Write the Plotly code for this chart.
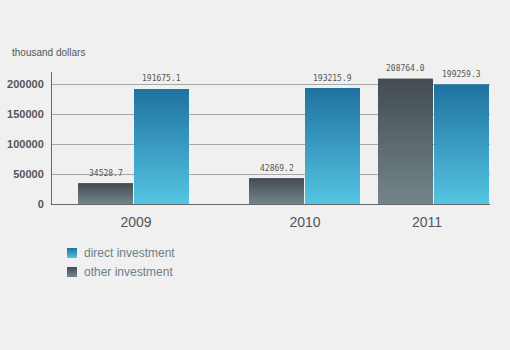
import base64
import plotly.graph_objects as go

# ---- data ----
years = ["2009", "2010", "2011"]
direct_investment = [191675.1, 193215.9, 199259.3]
other_investment = [34528.7, 42869.2, 208764.0]
y_ticks = [0, 50000, 100000, 150000, 200000]
series_names = ["direct investment", "other investment"]

# ---- layout constants (x axis units = pixels from left of plot area) ----
group_pos = [81.5, 252.5, 381.5]
label_pos = [84, 253, 375]
bar_w = 55
other_off = -55.5
direct_off = 0.5

dir_top, dir_bot = "#1f72a0", "#55c4e1"
oth_top, oth_bot = "#424c52", "#748589"
txt = "#555555"
font_fam = "Liberation Sans, Arial, sans-serif"

fig = go.Figure()

fig.add_trace(go.Bar(x=group_pos, y=direct_investment, width=bar_w, offset=direct_off,
                     marker=dict(color="#3a9cc4", line=dict(width=0)),
                     name=series_names[0], showlegend=False))
fig.add_trace(go.Bar(x=group_pos, y=other_investment, width=bar_w, offset=other_off,
                     marker=dict(color="#5b676c", line=dict(width=0)),
                     name=series_names[1], showlegend=False))


def grad_bars(vals, off, top, bot):
    for xc, v in zip(group_pos, vals):
        x0 = xc + off
        x1 = x0 + bar_w
        fig.add_trace(go.Scatter(
            x=[x0, x1, x1, x0, x0], y=[0, 0, v, v, 0], mode="lines",
            line=dict(width=0), fill="toself",
            fillgradient=dict(type="vertical", colorscale=[[0, bot], [1, top]]),
            showlegend=False, hoverinfo="skip"))


grad_bars(direct_investment, direct_off, dir_top, dir_bot)
grad_bars(other_investment, other_off, oth_top, oth_bot)

annotations = []
# value labels
for vals, off in ((direct_investment, direct_off), (other_investment, other_off)):
    for xc, v in zip(group_pos, vals):
        annotations.append(dict(
            x=xc + off + bar_w / 2, y=v, xref="x", yref="y", text=f"{v:.1f}",
            showarrow=False, yanchor="middle", yshift=10,
            font=dict(family="DejaVu Sans Mono, monospace", size=8, color=txt)))

# axis title
annotations.append(dict(text="thousand dollars", xref="paper", yref="paper",
                        x=-42 / 438, y=(204 - 53) / 132, xanchor="left", yanchor="middle",
                        showarrow=False, font=dict(family=font_fam, size=10, color=txt)))


def grad_svg(top, bot):
    svg = ('<svg xmlns="http://www.w3.org/2000/svg" width="10" height="10">'
           '<defs><linearGradient id="g" x1="0" y1="0" x2="0" y2="1">'
           f'<stop offset="0" stop-color="{top}"/><stop offset="1" stop-color="{bot}"/>'
           '</linearGradient></defs><rect width="10" height="10" fill="url(#g)"/></svg>')
    return "data:image/svg+xml;base64," + base64.b64encode(svg.encode()).decode()


images = []
legend_rows = [(series_names[0], dir_top, dir_bot), (series_names[1], oth_top, oth_bot)]
for i, (nm, top, bot) in enumerate(legend_rows):
    yc = 253 + 19 * i
    images.append(dict(source=grad_svg(top, bot), xref="paper", yref="paper",
                       x=(67 - 52) / 438, y=(204 - (yc - 5)) / 132,
                       sizex=10 / 438, sizey=10 / 132, xanchor="left", yanchor="top",
                       sizing="stretch", layer="above"))
    annotations.append(dict(text=nm, xref="paper", yref="paper",
                            x=(82 - 52) / 438, y=(204 - yc) / 132,
                            xanchor="left", yanchor="middle", showarrow=False,
                            font=dict(family=font_fam, size=12, color="#6e7f86")))

fig.update_layout(
    width=510, height=350,
    margin=dict(l=52, r=20, t=72, b=146, autoexpand=False),
    paper_bgcolor="#f0f0f0", plot_bgcolor="#f0f0f0",
    barmode="overlay",
    showlegend=False,
    xaxis=dict(range=[0, 438], tickvals=label_pos, ticktext=years, automargin=False,
               showgrid=False, zeroline=False, showline=True, linecolor="#666666", linewidth=1,
               ticks="outside", ticklen=5, tickcolor="rgba(0,0,0,0)",
               tickfont=dict(family=font_fam, size=14, color=txt)),
    yaxis=dict(range=[0, 220000], tickvals=y_ticks, ticktext=[str(t) for t in y_ticks],
               automargin=False,
               showgrid=True, gridcolor="#a8a8a8", gridwidth=1,
               zeroline=False, showline=True, linecolor="#666666", linewidth=1,
               ticks="", ticklabelstandoff=5,
               tickfont=dict(family=font_fam, size=11, color=txt, weight="bold")),
    annotations=annotations,
    images=images,
)

fig.write_html("out.html")
